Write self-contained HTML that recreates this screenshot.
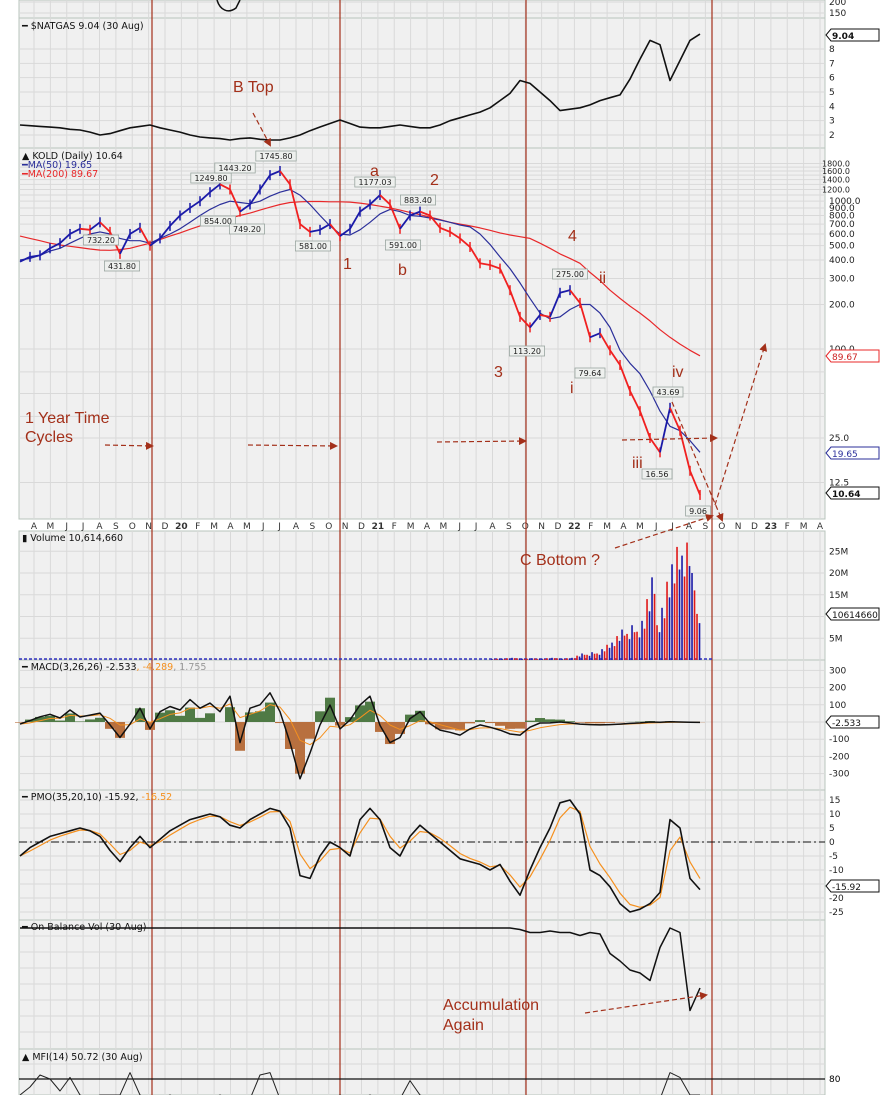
<!DOCTYPE html>
<html><head><meta charset="utf-8"><style>
html,body{margin:0;padding:0;background:#fff;}
svg{display:block;font-family:"DejaVu Sans","Liberation Sans",sans-serif;}
.ann{font-family:"Liberation Sans",sans-serif;fill:#a3301a;}
</style></head><body>
<svg id="c" width="885" height="1095" viewBox="0 0 885 1095" xmlns="http://www.w3.org/2000/svg"></svg>
<script>
// time sampling (months from Apr 2019)
const sampleStartMonth = -0.855;
const sampleStepMonths = 0.6107;
const monthLabels = ["A","M","J","J","A","S","O","N","D","20","F","M","A","M","J","J","A","S","O","N","D","21","F","M","A","M","J","J","A","S","O","N","D","22","F","M","A","M","J","J","A","S","O","N","D","23","F","M","A"];
const koldPrice = [390,420,430,480,520,600,650,640,720,620,440,600,660,500,560,680,800,900,1000,1150,1300,1200,850,950,1200,1500,1600,1300,700,620,640,700,580,650,850,950,1100,950,650,800,850,800,660,620,560,490,380,370,350,250,165,140,170,165,240,250,205,120,128,98,78,52,38,25,20,40,28,15,10.3];
const koldMA50 = [400,410,430,460,480,520,560,600,620,600,560,540,540,520,560,600,650,720,800,880,950,1000,980,960,1000,1080,1150,1200,1100,950,800,680,600,590,640,720,820,880,850,800,790,770,746,720,690,670,600,510,420,350,280,220,175,160,165,185,200,200,175,140,98,80,68,52,38,30,28,24,20];
const koldMA200 = [580,560,540,520,505,495,485,475,467,465,470,480,500,520,550,580,610,645,680,710,740,770,800,830,870,910,950,980,990,995,995,990,990,985,970,950,925,900,870,840,810,780,750,720,700,680,660,635,610,590,575,560,520,480,440,410,380,330,290,250,220,195,175,155,135,120,108,98,90];
const natgas = [2.7,2.65,2.6,2.55,2.5,2.4,2.35,2.2,2.0,2.1,2.3,2.5,2.6,2.7,2.5,2.35,2.2,2.0,1.86,1.8,1.75,1.65,1.75,1.8,1.7,1.65,1.65,1.8,2.0,2.3,2.56,2.8,3.05,2.8,2.55,2.5,2.5,2.6,2.7,2.6,2.5,2.5,2.7,3.0,3.2,3.4,3.6,3.9,4.4,4.9,5.8,5.6,5.0,4.4,3.7,3.8,3.9,4.1,4.4,4.6,4.8,5.9,7.3,8.6,8.3,5.8,7.2,8.6,9.04];
const macdLine = [-12,8,30,45,23,70,29,40,52,-17,-90,-12,80,-40,60,90,70,130,80,110,60,150,-120,80,100,170,60,-120,-330,-180,-17,99,-40,12,99,150,-20,-120,-90,20,60,-10,-47,-60,-76,-40,-17,-30,-47,-70,-76,-30,-6,-5,0,-5,-12,-15,-17,-15,-12,-8,-5,0,-2,2,0,-1,-2.5];
const pmoLine = [-5,-2,0,2,3,4,5,4,2,-3,-7,-2,2,-2,1,4,6,8,9,10,9,6,5,8,10,12,11,5,-12,-13,-5,0,-2,-5,8,12,8,-2,-5,2,6,3,0,-3,-6,-7,-8,-10,-8,-14,-19,-10,-2,5,14,15,10,-10,-12,-16,-22,-25,-24,-22,-18,8,5,-13,-17];
const obvLine = [0,0,0,0,0,0,0,0,0,0,0,0,0,0,0,0,0,0,0,0,0,0,0,0,0,0,0,0,0,0,0,0,0,0,0,0,0,0,0,0,0,0,0,0,0,0,0,0,0,0,-1,-3,-3,-2,-3,-3,-5,-3,-4,-17,-22,-28,-30,-35,-13,0,-3,-55,-40];
const mfiLine = [60,70,85,80,65,82,60,55,60,60,60,88,60,55,55,60,55,55,55,55,60,55,55,55,85,88,55,55,55,55,55,55,60,55,55,60,55,55,55,78,60,55,55,55,55,55,55,55,55,55,55,55,55,55,55,55,55,55,55,55,55,55,55,55,55,88,82,60,60];
const volStartMonth = 28.046;
const volStepMonths = 0.3053;
const volumeM = [0.2,0.3,0.3,0.4,0.5,0.4,0.3,0.3,0.4,0.3,0.3,0.4,0.5,0.4,0.3,0.4,0.5,1.0,1.5,1.2,1.8,1.5,2.5,3.5,4.0,5.5,7.0,6.0,8.0,6.5,9.0,14.0,19.0,8.0,12.0,18.0,22.0,26.0,24.0,27.0,20.0,10.6];

const svg=document.getElementById('c');
const NS='http://www.w3.org/2000/svg';
function el(tag,attrs,parent){const e=document.createElementNS(NS,tag);for(const k in attrs)e.setAttribute(k,attrs[k]);(parent||svg).appendChild(e);return e;}
function txt(x,y,s,attrs){const t=el('text',Object.assign({x:x,y:y},attrs||{}));t.textContent=s;return t;}
const L=19,R=825;
const X=m=>34+m*16.375;
const tAt=i=>sampleStartMonth+i*sampleStepMonths;
const yK=v=>349-Math.log2(v/100)*44.5;
const yN=v=>135-(v-2)*14.33;
const yV=v=>660-v*4.35;
const yM=v=>722-v*0.172;
const yP=v=>842-v*2.8;
const yO=v=>928-v*1.5;
const yF=v=>1079-(v-80)*0.8;

const panels=[['top-panel',0,18],['natgas-panel',18,148],['kold-panel',148,519],['volume-panel',531,660],['macd-panel',660,790],['pmo-panel',790,920],['obv-panel',920,1049],['mfi-panel',1049,1095]];
panels.forEach(p=>{const r=el('rect',{x:L,y:p[1],width:R-L,height:p[2]-p[1],fill:'#f0f0f0',stroke:'#b8c4bc','stroke-width':1});

});
monthLabels.forEach((m,i)=>{const x=X(i);if(x>R)return;
panels.forEach(p=>{const g=el('line',{x1:x,x2:x,y1:p[1],y2:p[2],stroke:'#d9d9d9','stroke-width':1});

});
const t=txt(x,529,m,{'font-size':9,'text-anchor':'middle',fill:'#333','font-weight':/\d/.test(m)?'bold':'normal'});

});
function hgrid(y,lbl,name){const g=el('line',{x1:L,x2:R,y1:y,y2:y,stroke:'#d9d9d9','stroke-width':1});


if(lbl!==null){const t=txt(829,y+3,lbl,{'font-size':9,fill:'#222'});

}}
hgrid(2,'200','top-y-tick');hgrid(13,'150','top-y-tick');
[8,7,6,5,4,3,2].forEach(v=>hgrid(yN(v),String(v),'natgas-y-tick'));
[1800,1700,1600,1500,1400,1300,1200,1100].forEach(v=>hgrid(yK(v),null));
[1800,1600,1400,1200].forEach(v=>{const t=txt(822,yK(v)+3,v.toFixed(1),{'font-size':8,fill:'#222'});});
[1000,900,800,700,600,500,400,300,200,100].forEach(v=>hgrid(yK(v),v.toFixed(1),'kold-y-tick'));
[70,50,35].forEach(v=>hgrid(yK(v),null));
hgrid(yK(25),'25.0','kold-y-tick');hgrid(yK(12.5),'12.5','kold-y-tick');
[25,20,15,10,5].forEach(v=>hgrid(yV(v),v===10?null:v+'M','volume-y-tick'));
[300,200,100,0,-100,-200,-300].forEach(v=>hgrid(yM(v),v===0?null:String(v),'macd-y-tick'));
[15,10,5,0,-5,-10,-15,-20,-25].forEach(v=>hgrid(yP(v),v===-15?null:String(v),'pmo-y-tick'));
[936,952,968,984,1000,1016,1032].forEach(y=>hgrid(y,null));
hgrid(1064,null);
[152,340,526,712].forEach(x=>{const l=el('line',{x1:x,x2:x,y1:0,y2:1095,stroke:'#a3301a','stroke-width':1.2});

});

function pts(arr,yf){return arr.map((v,i)=>X(tAt(i)).toFixed(1)+','+yf(v).toFixed(1)).join(' ');}
function line(arr,yf,color,w,name){const p=el('polyline',{points:pts(arr,yf),fill:'none',stroke:color,'stroke-width':w,'stroke-linejoin':'round'});

return p;}

const tp=el('path',{d:'M217,0 C220,10 228,14 236,8 L240,0',fill:'none',stroke:'#111','stroke-width':1.5});



line(natgas,yN,'#111',1.6,'natgas-line');
line(koldMA200,yK,'#e8282a',1.2,'ma200-line');
line(koldMA50,yK,'#2b2f9a',1.2,'ma50-line');
for(let i=1;i<koldPrice.length;i++){const x0=X(tAt(i-1)),x1=X(tAt(i));const up=koldPrice[i]>=koldPrice[i-1];
const s=el('line',{x1:x0,y1:yK(koldPrice[i-1]),x2:x1,y2:yK(koldPrice[i]),stroke:up?'#1a1aa8':'#f02020','stroke-width':1.8});


const b=el('line',{x1:x1,x2:x1,y1:yK(koldPrice[i])-5,y2:yK(koldPrice[i])+5,stroke:up?'#1a1aa8':'#f02020','stroke-width':1.5});

}
const vz=el('line',{x1:L,x2:712,y1:659,y2:659,stroke:'#3030c0','stroke-width':1.5,'stroke-dasharray':'3,2'});


volumeM.forEach((v,i)=>{const x=X(volStartMonth+i*volStepMonths);
const b1=el('rect',{x:x-2,y:yV(v),width:1.6,height:660-yV(v),fill:i%2?'#e01818':'#1a1aa8'});


const b2=el('rect',{x:x+0.5,y:yV(v*0.8),width:1.6,height:660-yV(v*0.8),fill:i%2?'#1a1aa8':'#e01818'});

});
const sig=[];macdLine.forEach((v,i)=>sig.push(i?sig[i-1]+0.35*(v-sig[i-1]):v));
macdLine.forEach((v,i)=>{const h=(v-sig[i])*0.9+v*0.3;const x=X(tAt(i));
const r=el('rect',{x:x-5,width:10,y:Math.min(yM(h),722),height:Math.abs(yM(h)-722),fill:h>=0?'#4f7a45':'#b8703f'});

});
line(sig,yM,'#f5901e',1,'macd-signal-line');
line(macdLine,yM,'#111',1.5,'macd-line');
const zl=el('line',{x1:L,x2:R,y1:yP(0),y2:yP(0),stroke:'#111','stroke-width':1,'stroke-dasharray':'8,3,2,3'});


const psig=[];pmoLine.forEach((v,i)=>psig.push(i?psig[i-1]+0.6*(v-psig[i-1]):v));
line(psig,yP,'#f5901e',1.2,'pmo-signal-line');
line(pmoLine,yP,'#111',1.6,'pmo-line');
line(obvLine,yO,'#111',1.5,'obv-line');
const mfl=el('line',{x1:L,x2:R,y1:1079,y2:1079,stroke:'#111','stroke-width':1.2});


const cp=el('clipPath',{id:'mc'});el('rect',{x:L,y:1049,width:R-L,height:46},cp);
line(mfiLine,yF,'#222',1,'mfi-line').setAttribute('clip-path','url(#mc)');
const m80=txt(829,1082,'80',{'font-size':9});

function tag(y,s,col,bold,name){const g=el('g',{});


el('path',{d:`M826,${y} l5,-6 h48 v12 h-48 z`,fill:'#fff',stroke:col,'stroke-width':1},g);
const t=txt(832,y+4,s,{'font-size':9,fill:col==='#e8282a'?'#c22':(col==='#2b2f9a'?'#2b2f9a':'#111'),'font-weight':bold?'bold':'normal'});g.appendChild(t);}
tag(35,'9.04','#111',true,'natgas-last-tag');
tag(356,'89.67','#e8282a',false,'ma200-tag');
tag(453,'19.65','#2b2f9a',false,'ma50-tag');
tag(493,'10.64','#111',true,'kold-last-tag');
tag(614,'10614660','#111',false,'volume-tag');
tag(722,'-2.533','#111',false,'macd-tag');
tag(886,'-15.92','#111',false,'pmo-tag');

function title(x,y,parts,name){const t=el('text',{x:x,y:y,'font-size':9.5});


parts.forEach(p=>{const s=el('tspan',{fill:p[1]},t);s.textContent=p[0];});}
title(22,29,[['━ $NATGAS 9.04 (30 Aug)','#111']],'natgas-title');
title(22,159,[['▲ KOLD (Daily) 10.64','#111']],'kold-title');
title(22,168,[['━MA(50) 19.65','#2b2f9a']],'ma50-legend');
title(22,177,[['━MA(200) 89.67','#e8282a']],'ma200-legend');
title(22,541,[['▮ Volume 10,614,660','#111']],'volume-title');
title(22,670,[['━ MACD(3,26,26) -2.533','#111'],[', -4.289','#f5901e'],[', 1.755','#999']],'macd-title');
title(22,800,[['━ PMO(35,20,10) -15.92,','#111'],[' -16.52','#f5901e']],'pmo-title');
title(22,930,[['━ On Balance Vol (30 Aug)','#111']],'obv-title');
title(22,1060,[['▲ MFI(14) 50.72 (30 Aug)','#111']],'mfi-title');

[['732.20',101,243],['431.80',122,269],['1249.80',211,181],['1443.20',235,171],['854.00',218,224],['749.20',247,232],['1745.80',276,159],['581.00',313,249],['1177.03',375,185],['591.00',403,248],['883.40',418,203],['275.00',570,277],['113.20',527,354],['79.64',590,376],['43.69',668,395],['16.56',657,477],['9.06',698,514]].forEach(c=>{
const g=el('g',{});


const w=c[0].length*5.2+4;
el('rect',{x:c[1]-w/2,y:c[2]-8,width:w,height:10,fill:'#eef0ee',stroke:'#9aa6a0','stroke-width':0.8},g);
g.appendChild(txt(c[1],c[2],c[0],{'font-size':8,'text-anchor':'middle',fill:'#222'}));});

function ann(x,y,s,sz,name){const t=txt(x,y,s,{'font-size':sz,class:'ann'});

}
ann(233,92,'B Top',16,'b-top-label');
ann(25,423,'1 Year Time',16,'time-cycles-label');
ann(25,442,'Cycles',16,'time-cycles-label');
ann(520,565,'C Bottom ?',16,'c-bottom-label');
ann(443,1010,'Accumulation',16,'accumulation-label');
ann(443,1030,'Again',16,'accumulation-label');
[['a',370,176],['2',430,185],['1',343,269],['b',398,275],['4',568,241],['3',494,377],['ii',599,283],['i',570,393],['iv',672,377],['iii',632,468]].forEach(w=>ann(w[1],w[2],w[0],16,'wave-label'));
const defs=el('defs',{});const mk=el('marker',{id:'ah',markerWidth:8,markerHeight:8,refX:6,refY:4,orient:'auto',markerUnits:'userSpaceOnUse'},defs);
el('path',{d:'M0,0 L8,4 L0,8 z',fill:'#a3301a'},mk);
[[253,113,270,145],[105,445,152,446],[248,445,336,446],[437,442,525,441],[622,440,716,438],[672,402,722,520],[715,505,765,345],[615,548,712,516],[585,1013,706,995]].forEach(a=>{
const l=el('line',{x1:a[0],y1:a[1],x2:a[2],y2:a[3],stroke:'#a3301a','stroke-width':1.2,'stroke-dasharray':'5,3','marker-end':'url(#ah)'});

});
</script>
</body></html>
